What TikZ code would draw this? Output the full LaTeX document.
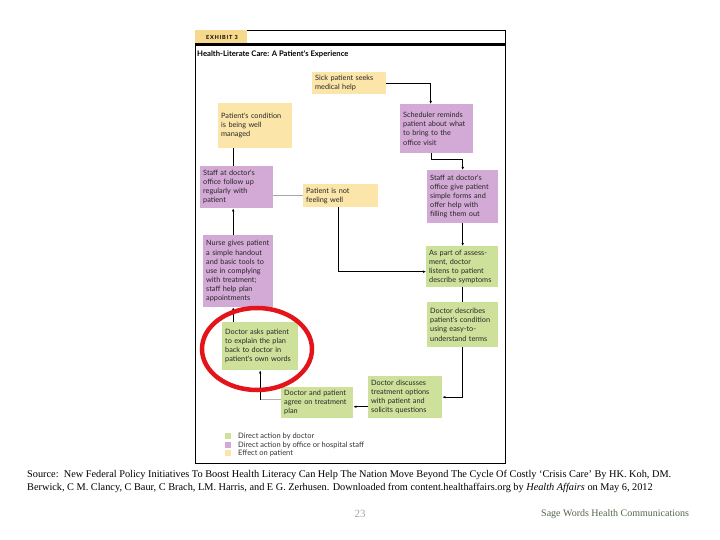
\documentclass[tikz,border=0pt]{standalone}
\usepackage{fontspec}
\setmainfont{Liberation Serif}
\newfontfamily\boxfont{Lato}
\usepackage{tikz}
\usetikzlibrary{arrows.meta}

\definecolor{effectyel}{HTML}{FBE5A9}
\definecolor{staffpur}{HTML}{D3A9D6}
\definecolor{docgreen}{HTML}{CDE19B}
\definecolor{tabyel}{HTML}{F6D98C}
\definecolor{circred}{HTML}{E3151B}
\definecolor{sagegreen}{HTML}{55654A}

\begin{document}
\begin{tikzpicture}[
  x=1pt, y=-1pt,
  box/.style={anchor=north west, inner sep=3pt, align=left, text=black!85,
    font=\boxfont\fontsize{7.3}{9.1}\selectfont},
  doc/.style={box, fill=docgreen},
  staff/.style={box, fill=staffpur},
  effect/.style={box, fill=effectyel},
  arrow/.style={-{Latex[length=3pt, width=2.6pt]}, line width=0.8pt},
  link/.style={line width=0.8pt},
  keytext/.style={anchor=west, inner sep=0pt, text=black!80,
    font=\boxfont\fontsize{7.5}{8}\selectfont},
  caption/.style={anchor=base west, inner sep=0pt, font=\fontsize{10.3}{12}\selectfont},
]
  \useasboundingbox[fill=white] (0,0) rectangle (720,540);

  % Exhibit frame and heading
  \draw[line width=0.8pt] (195,30) rectangle (505,463);
  \fill[tabyel] (195,30) rectangle (247,43);
  \node[inner sep=0pt, font=\boxfont\bfseries\fontsize{5.6}{6}\selectfont\addfontfeatures{LetterSpace=14}]
    (tab) at (222,37) {EXHIBIT 3};
  \draw[line width=3pt] (195,45) -- (505,45);
  \node[anchor=west, inner sep=0pt, font=\boxfont\bfseries\fontsize{7.7}{8}\selectfont]
    (title) at (197,54) {Health-Literate Care: A Patient's Experience};

  % Effect on patient
  \node[effect, minimum width=74, minimum height=22, text width=68] (sick) at (312,72)
    {Sick patient seeks\\medical help};
  \node[effect, minimum width=74, minimum height=45, text width=68] (managed) at (218,103)
    {Patient's condition\\is being well\\managed};
  \node[effect, minimum width=75, minimum height=23, text width=69] (notwell) at (303,184)
    {Patient is not\\feeling well};

  % Office or hospital staff
  \node[staff, minimum width=73, minimum height=49, text width=67] (sched) at (400,104)
    {Scheduler reminds\\patient about what\\to bring to the\\office visit};
  \node[staff, minimum width=71, minimum height=53, text width=65] (forms) at (427,170)
    {Staff at doctor's\\office give patient\\simple forms and\\offer help with\\filling them out};
  \node[staff, minimum width=73, minimum height=42, text width=67] (followup) at (200,166)
    {Staff at doctor's\\office follow up\\regularly with\\patient};
  \node[staff, minimum width=70, minimum height=72, text width=64] (nurse) at (203,235)
    {Nurse gives patient\\a simple handout\\and basic tools to\\use in complying\\with treatment;\\staff help plan\\appointments};

  % Doctor
  \node[doc, minimum width=72, minimum height=41, text width=66] (listen) at (426,246)
    {As part of assess-\\ment, doctor\\listens to patient\\describe symptoms};
  \node[doc, minimum width=71, minimum height=45, text width=65] (describe) at (427,302)
    {Doctor describes\\patient's condition\\using easy-to-\\understand terms};
  \node[doc, minimum width=74, minimum height=42, text width=68] (discuss) at (368,376)
    {Doctor discusses\\treatment options\\with patient and\\solicits questions};
  \node[doc, minimum width=72, minimum height=31, text width=66] (agree) at (281,387)
    {Doctor and patient\\agree on treatment\\plan};
  \node[doc, minimum width=76, minimum height=48, text width=70] (ask) at (222,322)
    {Doctor asks patient\\to explain the plan\\back to doctor in\\patient's own words};

  % Connectors
  \draw[arrow] (sick.east) -| ([xshift=-6pt]sched.north);
  \draw[arrow] ([xshift=-5pt]sched.south) -- ++(0,6) -| (forms.north);
  \draw[arrow] (forms.south) -- (forms.south |- listen.north);
  \draw[arrow] ([xshift=-2pt]notwell.south) |- ([yshift=-5pt]listen.west);
  \draw[link] (listen.south) -- (listen.south |- describe.north);
  \draw[arrow] (describe.south) |- (discuss.east);
  \draw[arrow] ([yshift=-4pt]agree.east -| discuss.west) -- ([yshift=-4pt]agree.east);
  \coordinate (bend) at ([yshift=3pt]agree.west -| ask.south);
  \draw[link, gray!60] ([yshift=3pt]agree.west) -- (bend);
  \draw[arrow] (bend) -- (ask.south);
  \draw[arrow] ([xshift=-27pt]ask.north) -- ([xshift=-27pt]ask.north |- nurse.south);
  \draw[arrow] ([xshift=-5pt]nurse.north) -- ([xshift=-5pt]nurse.north |- followup.south);
  \draw[link] ([xshift=-3pt]followup.north) -- ([xshift=-3pt]followup.north |- managed.south);
  \draw[link, gray!70] (notwell.west -| followup.east) -- (notwell.west);

  % Highlight
  \draw[circred, line width=4.5pt] (257,349) ellipse [x radius=55, y radius=41];

  % Key
  \fill[docgreen] (225,433) rectangle (231,439);
  \fill[staffpur] (225,442) rectangle (231,448);
  \fill[effectyel] (225,450) rectangle (231,456);
  \node[keytext] (keydoc) at (238,436) {Direct action by doctor};
  \node[keytext] (keystaff) at (238,445) {Direct action by office or hospital staff};
  \node[keytext] (keyeffect) at (238,453) {Effect on patient};

  % Source and footer
  \node[caption] (src1) at (27,477)
    {Source:\ \ New Federal Policy Initiatives To Boost Health Literacy Can Help The Nation Move Beyond The Cycle Of Costly ‘Crisis Care’ By HK. Koh, DM.};
  \node[caption] (src2) at (27,490)
    {Berwick, C M. Clancy, C Baur, C Brach, LM. Harris, and E G. Zerhusen. Downloaded from content.healthaffairs.org by \textit{Health Affairs} on May 6, 2012};
  \node[anchor=base, inner sep=0pt, text=gray!70, font=\fontsize{11}{12}\selectfont] (page) at (360,517) {23};
  \node[anchor=base west, inner sep=0pt, text=sagegreen, font=\fontsize{10}{11}\selectfont] (brand) at (541,516)
    {Sage Words Health Communications};
\end{tikzpicture}
\end{document}
